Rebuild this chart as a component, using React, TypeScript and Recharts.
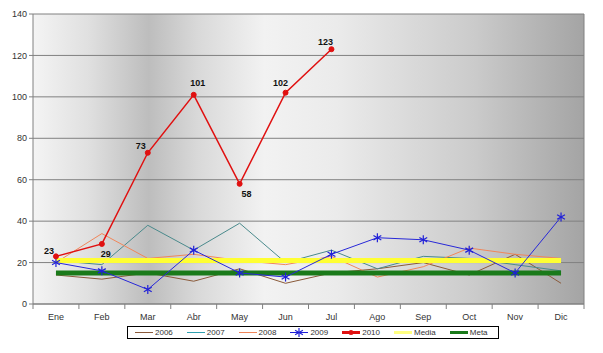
import {
  LineChart,
  Line,
  XAxis,
  YAxis,
  CartesianGrid,
  Legend,
  LabelList,
} from "recharts";

const months = ["Ene", "Feb", "Mar", "Abr", "May", "Jun", "Jul", "Ago", "Sep", "Oct", "Nov", "Dic"];
const y2006 = [14, 12, 15, 11, 17, 10, 15, 17, 20, 14, 24, 10];
const y2007 = [21, 19, 38, 26, 39, 20, 26, 17, 23, 22, 19, 16];
const y2008 = [20, 34, 22, 24, 21, 19, 23, 13, 18, 27, 24, 22];
const y2009 = [20, 16, 7, 26, 15, 13, 24, 32, 31, 26, 15, 42];
const y2010 = [23, 29, 73, 101, 58, 102, 123];
const media = [21, 21, 21, 21, 21, 21, 21, 21, 21, 21, 21, 21];
const meta = [15, 15, 15, 15, 15, 15, 15, 15, 15, 15, 15, 15];
const yTicks = [0, 20, 40, 60, 80, 100, 120, 140];

const data = months.map((m, i) => ({
  month: m,
  s2006: y2006[i],
  s2007: y2007[i],
  s2008: y2008[i],
  s2009: y2009[i],
  s2010: y2010[i] ?? null,
  media: media[i],
  meta: meta[i],
}));

// where each 2010 label sits relative to its point
const labelShift = [
  [-7, -5],
  [4, 10],
  [-7, -7],
  [4, -12],
  [7, 10],
  [-5, -10],
  [-6, -7],
];

const WIDTH = 603;
const HEIGHT = 353;
const LEFT = 33;
const RIGHT = 19;
const STEP = (WIDTH - LEFT - RIGHT) / months.length;

const font = "'Liberation Sans', Arial, sans-serif";

const series = [
  { key: "s2006", name: "2006", color: "#8a5a3a", width: 1 },
  { key: "s2007", name: "2007", color: "#4a8a8c", width: 1 },
  { key: "s2008", name: "2008", color: "#f0865a", width: 1 },
  { key: "media", name: "Media", color: "#ffff33", width: 5 },
  { key: "meta", name: "Meta", color: "#1a7a1a", width: 5 },
];

function Asterisk(props: any) {
  const { cx, cy } = props;
  if (cx == null || cy == null) return null;
  const r = 4.5;
  return (
    <g stroke="#2020d8" strokeWidth={1.2}>
      <line x1={cx} y1={cy - r} x2={cx} y2={cy + r} />
      <line x1={cx - r * 0.87} y1={cy - r / 2} x2={cx + r * 0.87} y2={cy + r / 2} />
      <line x1={cx - r * 0.87} y1={cy + r / 2} x2={cx + r * 0.87} y2={cy - r / 2} />
    </g>
  );
}

function RedLabel(props: any) {
  const { x, y, value, index } = props;
  if (value == null) return null;
  const [dx, dy] = labelShift[index] ?? [0, -8];
  return (
    <text
      x={x + dx}
      y={y + dy}
      textAnchor="middle"
      dominantBaseline="central"
      fontSize={9}
      fontWeight="bold"
      fontFamily={font}
      fill="#111"
    >
      {value}
    </text>
  );
}

function MonthTick(props: any) {
  const { x, y, payload, index } = props;
  const last = index === months.length - 1;
  return (
    <g>
      <line x1={x - STEP / 2} y1={y - 8} x2={x - STEP / 2} y2={y - 3} stroke="#808080" />
      {last && <line x1={x + STEP / 2} y1={y - 8} x2={x + STEP / 2} y2={y - 3} stroke="#808080" />}
      <text x={x} y={y + 8} textAnchor="middle" fontSize={9} fontFamily={font} fill="#333">
        {payload.value}
      </text>
    </g>
  );
}

const legendItems = [
  { name: "2006", color: "#8a5a3a", h: 1 },
  { name: "2007", color: "#30a0b0", h: 1 },
  { name: "2008", color: "#f0865a", h: 1 },
  { name: "2009", color: "#2020d8", h: 1, star: true },
  { name: "2010", color: "#e01010", h: 3, dot: true },
  { name: "Media", color: "#ffff80", h: 3 },
  { name: "Meta", color: "#1a7a1a", h: 3 },
];

function LegendBox() {
  return (
    <div
      style={{
        boxSizing: "border-box",
        width: 372,
        height: 13,
        border: "1px solid #000",
        background: "#fff",
        display: "flex",
        alignItems: "center",
        paddingLeft: 7,
        gap: 14,
        fontFamily: font,
        fontSize: 8,
        color: "#333",
        whiteSpace: "nowrap",
      }}
    >
      {legendItems.map((it) => (
        <div key={it.name} style={{ display: "flex", alignItems: "center", flexShrink: 0 }}>
          <svg width={18} height={9}>
            <line x1={0} y1={4.5} x2={18} y2={4.5} stroke={it.color} strokeWidth={it.h} />
            {it.dot && <circle cx={9} cy={4.5} r={2.5} fill={it.color} />}
            {it.star && <Asterisk cx={9} cy={4.5} />}
          </svg>
          <span style={{ marginLeft: 2 }}>{it.name}</span>
        </div>
      ))}
    </div>
  );
}

export default function App() {
  return (
    <div style={{ position: "absolute", left: 0, top: 0, background: "#fff" }}>
      <LineChart
        width={WIDTH}
        height={HEIGHT}
        data={data}
        margin={{ top: 14, right: RIGHT, bottom: 14, left: 0 }}
      >
        <defs>
          <linearGradient id="plotBg" x1="0" y1="0" x2="1" y2="0">
            <stop offset="0" stopColor="#f4f4f4" />
            <stop offset="0.1" stopColor="#e0e0e0" />
            <stop offset="0.21" stopColor="#bdbdbd" />
            <stop offset="0.3" stopColor="#d9d9d9" />
            <stop offset="0.42" stopColor="#f2f2f2" />
            <stop offset="0.55" stopColor="#ebebeb" />
            <stop offset="0.8" stopColor="#cbcbcb" />
            <stop offset="1" stopColor="#a4a4a4" />
          </linearGradient>
        </defs>
        <CartesianGrid
          fill="url(#plotBg)"
          fillOpacity={1}
          stroke="#808080"
          verticalCoordinatesGenerator={({ offset }: any) => [offset.left + offset.width]}
        />
        <XAxis
          dataKey="month"
          interval={0}
          height={22}
          padding={{ left: STEP / 2, right: STEP / 2 }}
          axisLine={{ stroke: "#808080" }}
          tickLine={false}
          tick={<MonthTick />}
        />
        <YAxis
          width={LEFT}
          domain={[0, 140]}
          ticks={yTicks}
          interval={0}
          axisLine={{ stroke: "#808080" }}
          tickLine={{ stroke: "#808080" }}
          tickSize={4}
          tick={{ fontSize: 9, fontFamily: font, fill: "#333" }}
        />
        <Legend
          verticalAlign="bottom"
          content={<LegendBox />}
          wrapperStyle={{ left: 127, bottom: 14, width: 372, height: 13 }}
        />
        {series.map((s) => (
          <Line
            key={s.key}
            dataKey={s.key}
            name={s.name}
            stroke={s.color}
            strokeWidth={s.width}
            dot={false}
            activeDot={false}
            isAnimationActive={false}
          />
        ))}
        <Line
          dataKey="s2009"
          name="2009"
          stroke="#2828d8"
          strokeWidth={1}
          dot={<Asterisk />}
          activeDot={false}
          isAnimationActive={false}
        />
        <Line
          dataKey="s2010"
          name="2010"
          stroke="#e01010"
          strokeWidth={1.5}
          dot={{ r: 2.5, fill: "#e01010", stroke: "#e01010", strokeWidth: 1 }}
          activeDot={false}
          connectNulls={false}
          isAnimationActive={false}
        >
          <LabelList dataKey="s2010" content={<RedLabel />} />
        </Line>
      </LineChart>
    </div>
  );
}
